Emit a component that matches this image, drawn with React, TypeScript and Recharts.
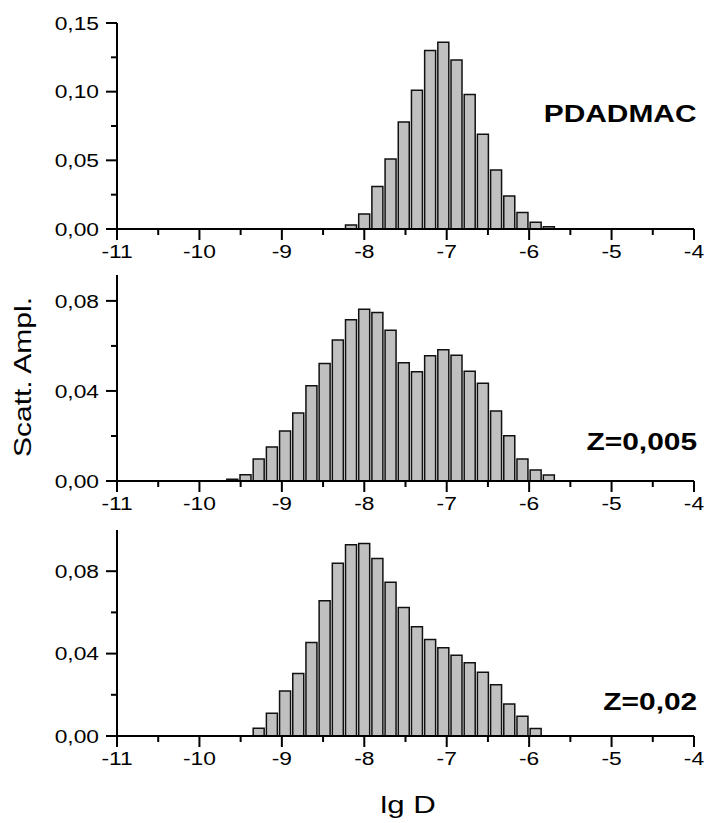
import React from 'react';
import { BarChart, Bar, XAxis, YAxis } from 'recharts';

// bin centres (lg D) and amplitudes
const xPdadmac = [-8.16, -8.0, -7.84, -7.68, -7.52, -7.36, -7.2, -7.04, -6.88, -6.72, -6.56, -6.4, -6.24, -6.08, -5.92, -5.76];
const yPdadmac = [0.003, 0.011, 0.031, 0.051, 0.078, 0.101, 0.13, 0.136, 0.123, 0.098, 0.069, 0.043, 0.024, 0.012, 0.005, 0.0017];

const xZ005 = [-9.6, -9.44, -9.28, -9.12, -8.96, -8.8, -8.64, -8.48, -8.32, -8.16, -8.0, -7.84, -7.68, -7.52, -7.36, -7.2, -7.04, -6.88, -6.72, -6.56, -6.4, -6.24, -6.08, -5.92, -5.76];
const yZ005 = [0.0008, 0.0028, 0.0098, 0.0151, 0.0222, 0.0302, 0.0423, 0.0522, 0.0626, 0.0716, 0.0763, 0.0748, 0.067, 0.0525, 0.0485, 0.0556, 0.0583, 0.0559, 0.0488, 0.0434, 0.0311, 0.0201, 0.0098, 0.0049, 0.0027];

const xZ02 = [-9.28, -9.12, -8.96, -8.8, -8.64, -8.48, -8.32, -8.16, -8.0, -7.84, -7.68, -7.52, -7.36, -7.2, -7.04, -6.88, -6.72, -6.56, -6.4, -6.24, -6.08, -5.92];
const yZ02 = [0.0038, 0.0111, 0.0218, 0.0304, 0.0454, 0.0657, 0.0838, 0.0928, 0.0935, 0.0862, 0.0746, 0.0624, 0.053, 0.0468, 0.0428, 0.0392, 0.0356, 0.0309, 0.0249, 0.0155, 0.0096, 0.0036];

const xMajor = [-11, -10, -9, -8, -7, -6, -5, -4];
const xMinor = [-10.5, -9.5, -8.5, -7.5, -6.5, -5.5, -4.5];

const yMajor1 = [0, 0.05, 0.1, 0.15];
const yMinor1 = [0.025, 0.075, 0.125];
const yMajor23 = [0, 0.04, 0.08];
const yMinor23 = [0.02, 0.06];

const FONT = '"Liberation Sans", Arial, sans-serif';
const W = 704;
const STRETCH = 1.2; // the reference text is a bit wider than plain Arial

const toRows = (xs: number[], ys: number[]) => xs.map((x, i) => ({ x, v: ys[i] }));

function XTick(props: any) {
  const { x, y, payload } = props;
  const major = xMajor.includes(payload.value);
  return (
    <g>
      <line x1={x} x2={x} y1={y} y2={y + (major ? 11 : 6)} stroke="#000" strokeWidth={2} />
      {major && (
        <text
          transform={`translate(${x},${y + 22}) scale(${STRETCH},1)`}
          textAnchor="middle"
          dominantBaseline="central"
          fontSize={19}
          fontFamily={FONT}
          fill="#000"
        >
          {payload.value}
        </text>
      )}
    </g>
  );
}

function makeYTick(majors: number[]) {
  return (props: any) => {
    const { x, y, payload } = props;
    const major = majors.some((m) => Math.abs(m - payload.value) < 1e-9);
    return (
      <g>
        <line x1={x - (major ? 11 : 6)} x2={x} y1={y} y2={y} stroke="#000" strokeWidth={2} />
        {major && (
          <text
            transform={`translate(${x - 18},${y}) scale(${STRETCH},1)`}
            textAnchor="end"
            dominantBaseline="central"
            fontSize={19}
            fontFamily={FONT}
            fill="#000"
          >
            {payload.value.toFixed(2).replace('.', ',')}
          </text>
        )}
      </g>
    );
  };
}

interface PanelProps {
  top: number;
  rows: { x: number; v: number }[];
  yMax: number;
  majors: number[];
  minors: number[];
}

function Panel({ top, rows, yMax, majors, minors }: PanelProps) {
  const yTicks = [...majors, ...minors].sort((a, b) => a - b);
  return (
    <div style={{ position: 'absolute', left: 0, top }}>
      <BarChart width={W} height={271} data={rows} margin={{ top: 25, right: 10, left: 0, bottom: 0 }}>
        <XAxis
          dataKey="x"
          type="number"
          domain={[-11, -4]}
          ticks={[...xMajor, ...xMinor].sort((a, b) => a - b)}
          interval={0}
          height={40}
          tickSize={0}
          tickMargin={0}
          tickLine={false}
          axisLine={{ stroke: '#000', strokeWidth: 2 }}
          tick={<XTick />}
          allowDataOverflow
        />
        <YAxis
          type="number"
          domain={[0, yMax]}
          ticks={yTicks}
          interval={0}
          width={117}
          tickSize={0}
          tickMargin={0}
          tickLine={false}
          axisLine={{ stroke: '#000', strokeWidth: 2 }}
          tick={makeYTick(majors)}
          allowDataOverflow
        />
        <Bar dataKey="v" fill="#c0c0c0" stroke="#111" strokeWidth={1.5} barSize={11} isAnimationActive={false} />
      </BarChart>
    </div>
  );
}

const labelStyle: React.CSSProperties = {
  position: 'absolute',
  fontFamily: FONT,
  fontWeight: 'bold',
  fontSize: 23,
  color: '#000',
  whiteSpace: 'nowrap',
  lineHeight: 1,
  transform: 'scaleX(1.3)',
  transformOrigin: 'right center',
};

export default function App() {
  return (
    <div style={{ position: 'absolute', left: 0, top: 0, width: W, height: 823, background: '#fff' }}>
      <Panel top={-2} rows={toRows(xPdadmac, yPdadmac)} yMax={0.15} majors={yMajor1} minors={yMinor1} />
      <Panel top={250} rows={toRows(xZ005, yZ005)} yMax={0.0915} majors={yMajor23} minors={yMinor23} />
      <Panel top={505} rows={toRows(xZ02, yZ02)} yMax={0.1} majors={yMajor23} minors={yMinor23} />

      <div style={{ ...labelStyle, right: 7, top: 103 }}>PDADMAC</div>
      <div style={{ ...labelStyle, right: 7, top: 431 }}>Z=0,005</div>
      <div style={{ ...labelStyle, right: 7, top: 691 }}>Z=0,02</div>

      <div
        style={{
          position: 'absolute',
          left: 23,
          top: 377,
          transform: 'translate(-50%, -50%) rotate(-90deg) scaleX(1.25)',
          fontFamily: FONT,
          fontSize: 24,
          whiteSpace: 'nowrap',
          lineHeight: 1,
        }}
      >
        Scatt. Ampl.
      </div>
      <div
        style={{
          position: 'absolute',
          left: 408,
          top: 805,
          transform: 'translate(-50%, -50%) scaleX(1.3)',
          fontFamily: FONT,
          fontSize: 24,
          whiteSpace: 'nowrap',
          lineHeight: 1,
        }}
      >
        lg D
      </div>
    </div>
  );
}
